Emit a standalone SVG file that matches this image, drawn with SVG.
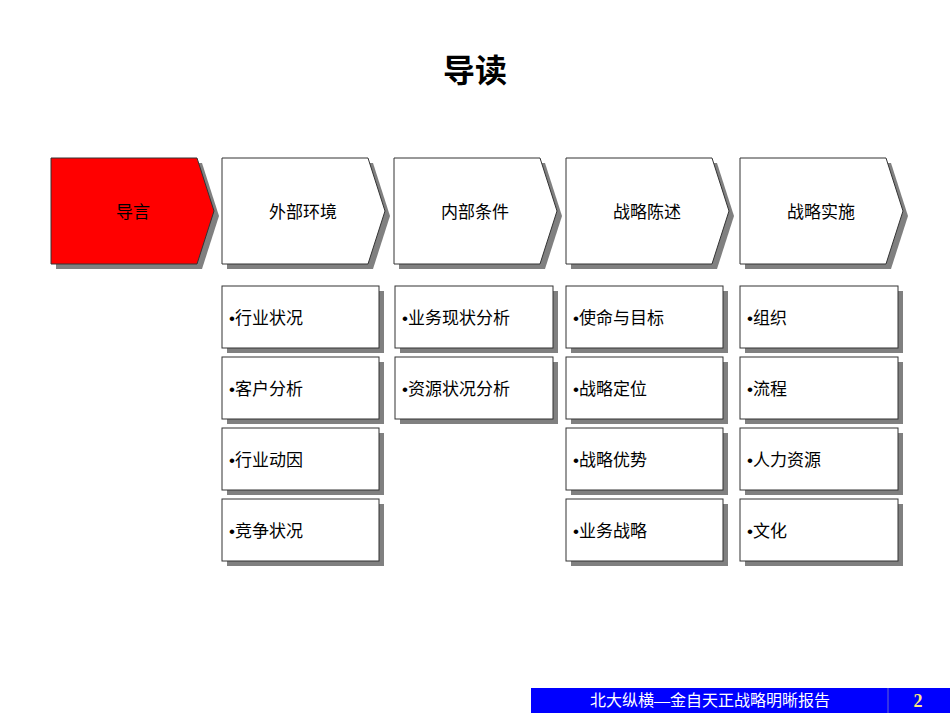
<svg xmlns="http://www.w3.org/2000/svg" width="950" height="713" viewBox="0 0 950 713">
<style>
.sh{fill:#808080}
.ch{fill:#fff;stroke:#333;stroke-width:1}
.red{fill:#ff0000}
.bx{fill:#fff;stroke:#333;stroke-width:1}
.t{font-family:"Liberation Sans","Noto Sans CJK SC",sans-serif;font-size:17px;fill:#000}
.h{font-family:"Liberation Sans","Noto Sans CJK SC",sans-serif;font-size:32px;font-weight:bold;fill:#000}
</style>
<defs>
<path id="chev" d="M0,0 H146 L163,53 L146,106 H0 Z"/>
</defs>
<rect width="950" height="713" fill="#fff"/>
<text class="h" x="475" y="82" text-anchor="middle">导读</text>
<g id="n0"><use href="#chev" x="56" y="163" class="sh"/><use href="#chev" x="51" y="158" class="ch red"/><text class="t" x="133" y="218" text-anchor="middle">导言</text></g>
<g id="n1"><use href="#chev" x="227" y="163" class="sh"/><use href="#chev" x="222" y="158" class="ch"/><text class="t" x="303" y="218" text-anchor="middle">外部环境</text></g>
<g id="n2"><use href="#chev" x="399" y="163" class="sh"/><use href="#chev" x="394" y="158" class="ch"/><text class="t" x="475" y="218" text-anchor="middle">内部条件</text></g>
<g id="n3"><use href="#chev" x="571" y="163" class="sh"/><use href="#chev" x="566" y="158" class="ch"/><text class="t" x="647" y="218" text-anchor="middle">战略陈述</text></g>
<g id="n4"><use href="#chev" x="745" y="163" class="sh"/><use href="#chev" x="740" y="158" class="ch"/><text class="t" x="821" y="218" text-anchor="middle">战略实施</text></g>
<g id="b1a"><rect x="227" y="291" width="157" height="62" class="sh"/><rect x="222" y="286" width="157" height="62" class="bx"/><text class="t" x="229" y="324">•行业状况</text></g>
<g id="b1b"><rect x="227" y="362" width="157" height="62" class="sh"/><rect x="222" y="357" width="157" height="62" class="bx"/><text class="t" x="229" y="395">•客户分析</text></g>
<g id="b1c"><rect x="227" y="433" width="157" height="62" class="sh"/><rect x="222" y="428" width="157" height="62" class="bx"/><text class="t" x="229" y="466">•行业动因</text></g>
<g id="b1d"><rect x="227" y="504" width="157" height="62" class="sh"/><rect x="222" y="499" width="157" height="62" class="bx"/><text class="t" x="229" y="537">•竞争状况</text></g>
<g id="b2a"><rect x="400" y="291" width="158" height="62" class="sh"/><rect x="395" y="286" width="158" height="62" class="bx"/><text class="t" x="402" y="324">•业务现状分析</text></g>
<g id="b2b"><rect x="400" y="362" width="158" height="62" class="sh"/><rect x="395" y="357" width="158" height="62" class="bx"/><text class="t" x="402" y="395">•资源状况分析</text></g>
<g id="b3a"><rect x="571" y="291" width="157" height="62" class="sh"/><rect x="566" y="286" width="157" height="62" class="bx"/><text class="t" x="573" y="324">•使命与目标</text></g>
<g id="b3b"><rect x="571" y="362" width="157" height="62" class="sh"/><rect x="566" y="357" width="157" height="62" class="bx"/><text class="t" x="573" y="395">•战略定位</text></g>
<g id="b3c"><rect x="571" y="433" width="157" height="62" class="sh"/><rect x="566" y="428" width="157" height="62" class="bx"/><text class="t" x="573" y="466">•战略优势</text></g>
<g id="b3d"><rect x="571" y="504" width="157" height="62" class="sh"/><rect x="566" y="499" width="157" height="62" class="bx"/><text class="t" x="573" y="537">•业务战略</text></g>
<g id="b4a"><rect x="745" y="291" width="158" height="62" class="sh"/><rect x="740" y="286" width="158" height="62" class="bx"/><text class="t" x="747" y="324">•组织</text></g>
<g id="b4b"><rect x="745" y="362" width="158" height="62" class="sh"/><rect x="740" y="357" width="158" height="62" class="bx"/><text class="t" x="747" y="395">•流程</text></g>
<g id="b4c"><rect x="745" y="433" width="158" height="62" class="sh"/><rect x="740" y="428" width="158" height="62" class="bx"/><text class="t" x="747" y="466">•人力资源</text></g>
<g id="b4d"><rect x="745" y="504" width="158" height="62" class="sh"/><rect x="740" y="499" width="158" height="62" class="bx"/><text class="t" x="747" y="537">•文化</text></g>
<g id="footer">
<rect x="531" y="688" width="419" height="25" fill="#0000ff"/>
<line x1="888" y1="688" x2="888" y2="713" stroke="#6666cc" stroke-width="1"/>
<text x="710" y="706" text-anchor="middle" font-family="'Liberation Serif','Noto Sans CJK SC',serif" font-size="16" fill="#fff">北大纵横—金自天正战略明晰报告</text>
<text x="918" y="707" text-anchor="middle" font-family="'Liberation Serif',serif" font-size="18" font-weight="bold" fill="#ffe680">2</text>
</g>
<g id="connectors"/>
</svg>
